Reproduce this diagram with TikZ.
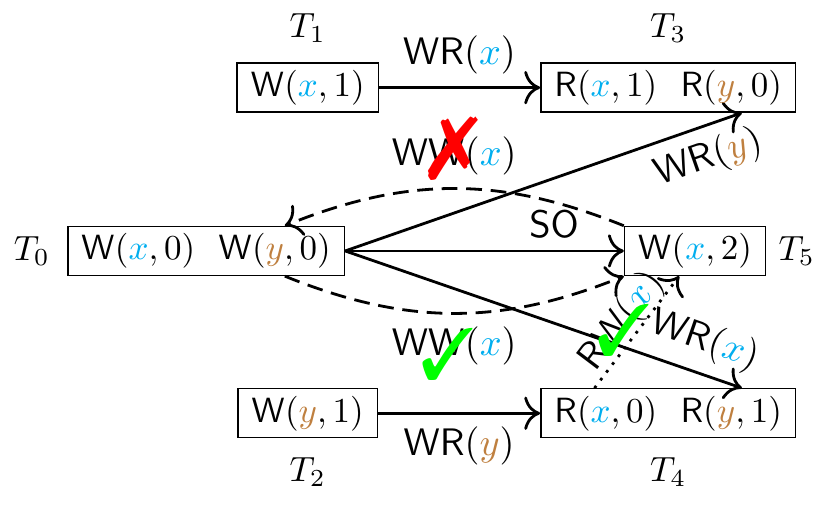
\documentclass[tikz,border=0pt]{standalone}
\usepackage{pifont}
\usetikzlibrary{arrows.meta}
\pgfdeclarelayer{edgelayer}
\pgfdeclarelayer{nodelayer}
\pgfsetlayers{edgelayer,nodelayer,main}
\definecolor{xcol}{RGB}{0,174,239}
\definecolor{ycol}{RGB}{191,128,64}
\newcommand{\xv}{\textcolor{xcol}{x}}
\newcommand{\yv}{\textcolor{ycol}{y}}
\tikzset{>={To[scale=1.35]}}
\tikzstyle{none}=[inner sep=0pt]
\tikzstyle{txn}=[draw,rectangle,inner xsep=3.9pt,inner ysep=2pt]
\tikzstyle{lbl}=[font=\fontsize{10.95}{13}\selectfont]
\tikzstyle{dep}=[->,thick]
\tikzstyle{ww}=[->,thick,dash pattern=on 4.5pt off 2.5pt]
\tikzstyle{rw}=[->,thick,dotted]

\begin{document}
\begin{tikzpicture}
	\useasboundingbox (0, 0) rectangle (8.345, -5.07);
	\begin{pgfonlayer}{nodelayer}
		\node [style=txn] (0) at (2.07, -2.52) {$\mathsf{W}(\xv, 0)\ \ \mathsf{W}(\yv, 0)$};
		\node [style=txn] (1) at (3.09, -0.88) {$\mathsf{W}(\xv, 1)$};
		\node [style=txn] (2) at (3.09, -4.15) {$\mathsf{W}(\yv, 1)$};
		\node [style=txn] (3) at (6.71, -0.88) {$\mathsf{R}(\xv, 1)\ \ \mathsf{R}(\yv, 0)$};
		\node [style=txn] (4) at (6.71, -4.15) {$\mathsf{R}(\xv, 0)\ \ \mathsf{R}(\yv, 1)$};
		\node [style=txn] (5) at (6.98, -2.52) {$\mathsf{W}(\xv, 2)$};
		\node [style=none] (6) at (0.32, -2.52) {$T_0$};
		\node [style=none] (7) at (3.09, -0.28) {$T_1$};
		\node [style=none] (8) at (3.09, -4.74) {$T_2$};
		\node [style=none] (9) at (6.71, -0.28) {$T_3$};
		\node [style=none] (10) at (6.71, -4.74) {$T_4$};
		\node [style=none] (11) at (8.00, -2.52) {$T_5$};
	\end{pgfonlayer}
	\begin{pgfonlayer}{edgelayer}
		\draw [style=dep] (1) to node[lbl, above] (12) {$\mathsf{WR}(\xv)$} (3);
		\draw [style=dep] (2) to node[lbl, below] (13) {$\mathsf{WR}(\yv)$} (4);
		\draw [style=dep] (0.east) to node[lbl, sloped, below, pos=0.89] (14) {$\mathsf{WR}(\yv)$} ([xshift=0.74cm]3.south);
		\draw [style=dep] (0.east) to node[lbl, above, pos=0.75] (15) {$\mathsf{SO}$} (5.west);
		\draw [style=dep] (0.east) to node[lbl, sloped, above, pos=0.88] (16) {$\mathsf{WR}(\xv)$} ([xshift=0.74cm]4.north);
		\draw [style=ww] (5.north west) to [bend right=22] node[lbl, above] (17) {$\mathsf{WW}(\xv)$} ([xshift=0.79cm]0.north);
		\draw [style=ww] ([xshift=0.79cm]0.south) to [bend right=22] node[lbl, below] (18) {$\mathsf{WW}(\xv)$} (5.south west);
		\draw [style=rw] ([xshift=-0.74cm]4.north) to node[lbl, sloped, above=-4pt] (19) {$\mathsf{RW}(\xv)$} ([xshift=-0.16cm]5.south);
	\end{pgfonlayer}
	\node [style=none] (20) at (4.55, -1.49) {\Huge\textcolor{red}{\ding{55}}};
	\node [style=none] (21) at (4.50, -3.56) {\huge\textcolor{green}{\ding{51}}};
	\node [style=none] (22) at (6.27, -3.32) {\huge\textcolor{green}{\ding{51}}};
\end{tikzpicture}
\end{document}
